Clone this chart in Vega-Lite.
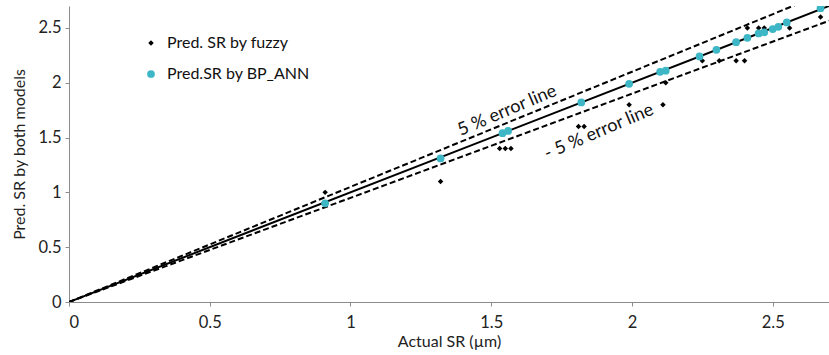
{
  "$schema": "https://vega.github.io/schema/vega-lite/v6.json",
  "width": 760,
  "height": 296,
  "autosize": {"type": "none"},
  "padding": {"left": 69, "top": 6, "right": 0, "bottom": 53},
  "background": "white",
  "config": {
    "view": {"stroke": null},
    "font": "Lato",
    "axis": {"labelFont": "Lato", "titleFont": "Lato", "grid": false, "domainColor": "#8c8c8c", "tickColor": "#8c8c8c", "labelColor": "#222", "titleColor": "#222", "labelFontSize": 16.5, "titleFontSize": 16, "titleFontWeight": "normal", "tickSize": 4, "labelPadding": 4}
  },
  "datasets": {
    "lines": [
      {"line": "ideal", "x": 0, "y": 0},
      {"line": "ideal", "x": 2.7, "y": 2.7},
      {"line": "plus5", "x": 0, "y": 0},
      {"line": "plus5", "x": 2.7, "y": 2.835},
      {"line": "minus5", "x": 0, "y": 0},
      {"line": "minus5", "x": 2.7, "y": 2.565}
    ],
    "points": [
      {"series": "Pred. SR by fuzzy", "actual": 0.91, "pred": 1.0},
      {"series": "Pred. SR by fuzzy", "actual": 1.32, "pred": 1.1},
      {"series": "Pred. SR by fuzzy", "actual": 1.53, "pred": 1.4},
      {"series": "Pred. SR by fuzzy", "actual": 1.55, "pred": 1.4},
      {"series": "Pred. SR by fuzzy", "actual": 1.57, "pred": 1.4},
      {"series": "Pred. SR by fuzzy", "actual": 1.81, "pred": 1.6},
      {"series": "Pred. SR by fuzzy", "actual": 1.83, "pred": 1.6},
      {"series": "Pred. SR by fuzzy", "actual": 1.99, "pred": 1.8},
      {"series": "Pred. SR by fuzzy", "actual": 2.11, "pred": 1.8},
      {"series": "Pred. SR by fuzzy", "actual": 2.12, "pred": 2.0},
      {"series": "Pred. SR by fuzzy", "actual": 2.25, "pred": 2.2},
      {"series": "Pred. SR by fuzzy", "actual": 2.31, "pred": 2.2},
      {"series": "Pred. SR by fuzzy", "actual": 2.37, "pred": 2.2},
      {"series": "Pred. SR by fuzzy", "actual": 2.40, "pred": 2.2},
      {"series": "Pred. SR by fuzzy", "actual": 2.41, "pred": 2.5},
      {"series": "Pred. SR by fuzzy", "actual": 2.45, "pred": 2.5},
      {"series": "Pred. SR by fuzzy", "actual": 2.47, "pred": 2.5},
      {"series": "Pred. SR by fuzzy", "actual": 2.56, "pred": 2.5},
      {"series": "Pred. SR by fuzzy", "actual": 2.67, "pred": 2.6},
      {"series": "Pred.SR by BP_ANN", "actual": 0.91, "pred": 0.9},
      {"series": "Pred.SR by BP_ANN", "actual": 1.32, "pred": 1.31},
      {"series": "Pred.SR by BP_ANN", "actual": 1.54, "pred": 1.54},
      {"series": "Pred.SR by BP_ANN", "actual": 1.56, "pred": 1.56},
      {"series": "Pred.SR by BP_ANN", "actual": 1.82, "pred": 1.82},
      {"series": "Pred.SR by BP_ANN", "actual": 1.99, "pred": 1.99},
      {"series": "Pred.SR by BP_ANN", "actual": 2.10, "pred": 2.10},
      {"series": "Pred.SR by BP_ANN", "actual": 2.12, "pred": 2.11},
      {"series": "Pred.SR by BP_ANN", "actual": 2.24, "pred": 2.24},
      {"series": "Pred.SR by BP_ANN", "actual": 2.30, "pred": 2.30},
      {"series": "Pred.SR by BP_ANN", "actual": 2.37, "pred": 2.37},
      {"series": "Pred.SR by BP_ANN", "actual": 2.41, "pred": 2.41},
      {"series": "Pred.SR by BP_ANN", "actual": 2.45, "pred": 2.45},
      {"series": "Pred.SR by BP_ANN", "actual": 2.47, "pred": 2.46},
      {"series": "Pred.SR by BP_ANN", "actual": 2.50, "pred": 2.49},
      {"series": "Pred.SR by BP_ANN", "actual": 2.52, "pred": 2.51},
      {"series": "Pred.SR by BP_ANN", "actual": 2.55, "pred": 2.55},
      {"series": "Pred.SR by BP_ANN", "actual": 2.67, "pred": 2.68}
    ],
    "labels": [
      {"text": "5 % error line", "x": 1.557, "y": 1.743},
      {"text": "- 5 % error line", "x": 1.883, "y": 1.55}
    ]
  },
  "layer": [
    {
      "data": {"name": "lines"},
      "transform": [{"filter": "datum.line === 'ideal'"}],
      "mark": {"type": "line", "color": "#000", "strokeWidth": 2, "clip": true},
      "encoding": {
        "x": {"field": "x", "type": "quantitative", "scale": {"domain": [0, 2.7], "nice": false}, "axis": {"values": [0, 0.5, 1, 1.5, 2, 2.5], "title": "Actual SR (µm)", "labelPadding": 8, "titlePadding": 3, "format": "~g"}},
        "y": {"field": "y", "type": "quantitative", "scale": {"domain": [0, 2.7], "nice": false}, "axis": {"values": [0, 0.5, 1, 1.5, 2, 2.5], "title": "Pred. SR by both models", "titlePadding": 10, "format": "~g"}}
      }
    },
    {
      "data": {"name": "lines"},
      "transform": [{"filter": "datum.line !== 'ideal'"}],
      "mark": {"type": "line", "color": "#000", "strokeWidth": 2, "strokeDash": [6, 3], "clip": true},
      "encoding": {
        "x": {"field": "x", "type": "quantitative"},
        "y": {"field": "y", "type": "quantitative"},
        "detail": {"field": "line"}
      }
    },
    {
      "data": {"name": "points"},
      "mark": {"type": "point", "filled": true, "opacity": 1, "clip": true},
      "encoding": {
        "x": {"field": "actual", "type": "quantitative"},
        "y": {"field": "pred", "type": "quantitative"},
        "color": {"field": "series", "type": "nominal", "scale": {"domain": ["Pred. SR by fuzzy", "Pred.SR by BP_ANN"], "range": ["#000000", "#3db6c6"]}, "legend": {"title": null, "orient": "none", "legendX": 74, "legendY": 29, "labelFontSize": 16, "labelFont": "Lato", "labelColor": "#111", "rowPadding": 15, "symbolSize": 55, "labelOffset": 8}},
        "shape": {"field": "series", "type": "nominal", "scale": {"domain": ["Pred. SR by fuzzy", "Pred.SR by BP_ANN"], "range": ["diamond", "circle"]}},
        "size": {"field": "series", "type": "nominal", "scale": {"domain": ["Pred. SR by fuzzy", "Pred.SR by BP_ANN"], "range": [30, 60]}, "legend": null}
      }
    },
    {
      "data": {"name": "labels"},
      "mark": {"type": "text", "angle": 337, "fontSize": 18, "font": "Lato", "color": "#111", "align": "center", "baseline": "middle"},
      "encoding": {
        "x": {"field": "x", "type": "quantitative"},
        "y": {"field": "y", "type": "quantitative"},
        "text": {"field": "text"}
      }
    },
    {
      "mark": {"type": "rule", "color": "#222", "strokeWidth": 2},
      "encoding": {"y": {"datum": 2.7}}
    }
  ]
}
